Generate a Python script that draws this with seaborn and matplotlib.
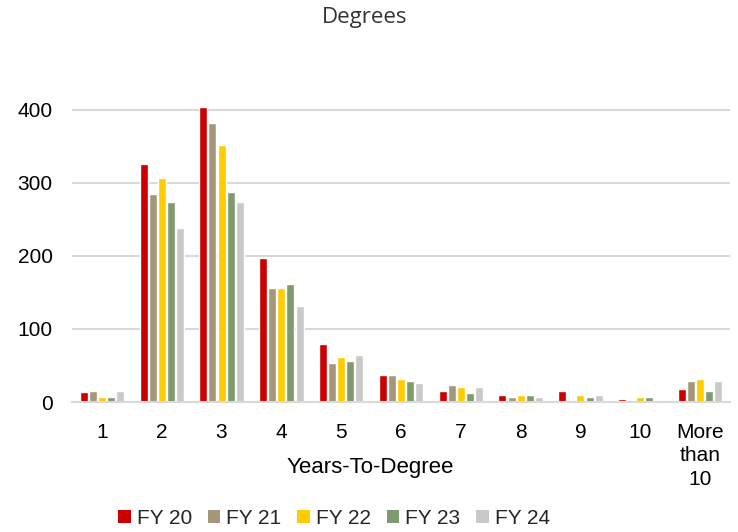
import matplotlib
matplotlib.use("Agg")
import matplotlib.pyplot as plt
import seaborn as sns
import pandas as pd

categories = ["1", "2", "3", "4", "5", "6", "7", "8", "9", "10", "More\nthan\n10"]
series_names = ["FY 20", "FY 21", "FY 22", "FY 23", "FY 24"]
fy20 = [13, 326, 404, 197, 79, 37, 15, 10, 15, 4, 18]
fy21 = [15, 285, 382, 156, 53, 37, 23, 7, 1, 1, 29]
fy22 = [7, 307, 352, 156, 62, 31, 20, 10, 10, 7, 32]
fy23 = [7, 274, 288, 162, 56, 29, 12, 10, 7, 7, 15]
fy24 = [15, 238, 274, 131, 64, 26, 20, 7, 10, 1, 29]
colors = ["#CC0000", "#A5977A", "#FFCC00", "#7F9A6E", "#C9C9C9"]

rows = []
for name, vals in zip(series_names, [fy20, fy21, fy22, fy23, fy24]):
    for c, v in zip(categories, vals):
        rows.append({"cat": c, "series": name, "value": v})
df = pd.DataFrame(rows)

sns.set_style("white")
plt.rcParams["font.family"] = ["Liberation Sans", "DejaVu Sans"]

fig = plt.figure(figsize=(7.38, 5.32), dpi=100)
ax = fig.add_axes([72/738, 1-402/532, (730-72)/738, (402-106)/532])

sns.barplot(data=df, x="cat", y="value", hue="series", order=categories,
            hue_order=series_names, palette=colors, width=0.76, gap=0.12,
            ax=ax, legend=False, saturation=1)

ax.set_ylim(0, 405)
ax.set_xlim(-0.5, len(categories) - 0.5)
ax.set_yticks([0, 100, 200, 300, 400])
ax.yaxis.grid(True, color="#D9D9D9", linewidth=1.5)
ax.set_axisbelow(True)
for s in ["top", "right", "left"]:
    ax.spines[s].set_visible(False)
ax.spines["bottom"].set_color("#D9D9D9")
ax.spines["bottom"].set_linewidth(1.5)
ax.tick_params(axis="both", length=0, labelsize=15, colors="black")
ax.tick_params(axis="y", pad=14)
ax.tick_params(axis="x", pad=15)
for lbl in ax.get_xticklabels():
    lbl.set_linespacing(1.3)
ax.set_xlabel("")
ax.set_ylabel("")

fig.text(365/738, 1-17/532, "Degrees", ha="center", va="center",
         fontsize=16, color="#333333", family=["Open Sans", "DejaVu Sans"])
fig.text(370/738, 1-467/532, "Years-To-Degree", ha="center", va="center",
         fontsize=16, color="black")

from matplotlib.patches import Patch
handles = [Patch(facecolor=c, edgecolor="none") for c in colors]
fig.legend(handles, series_names, loc="center", bbox_to_anchor=(334/738, 1-518/532),
           ncol=5, frameon=False, fontsize=15, handlelength=0.6, handleheight=0.6,
           handletextpad=0.3, columnspacing=0.75, borderpad=0)

fig.savefig("out.png", dpi=100)
